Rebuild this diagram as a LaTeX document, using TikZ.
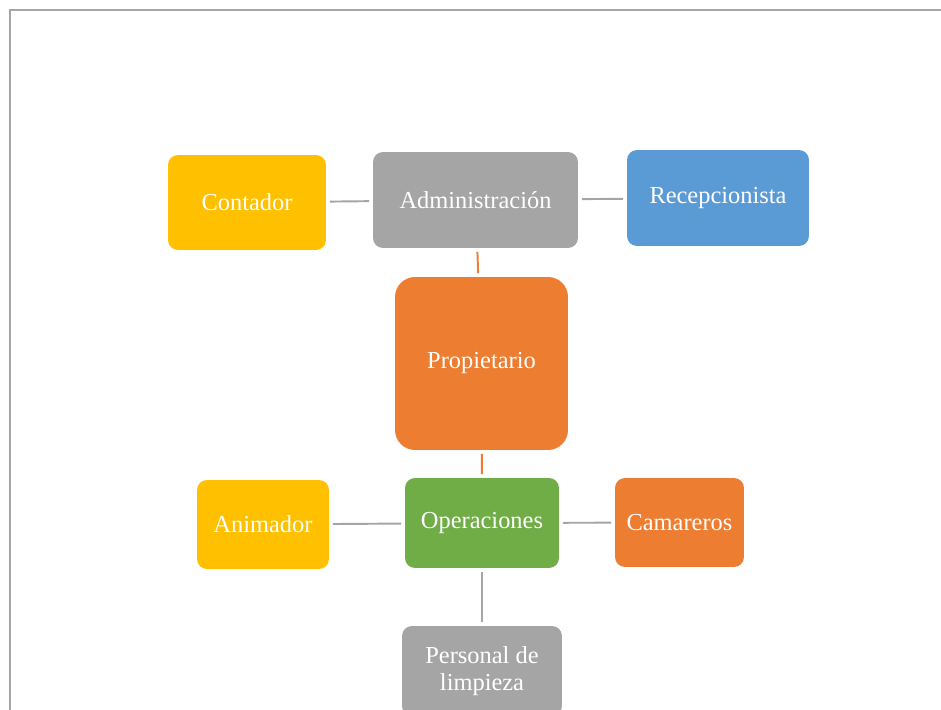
\documentclass[tikz,border=0pt]{standalone}
\usepackage{fontspec}
\setmainfont{Liberation Serif}
\usepackage{xcolor}
\usetikzlibrary{positioning}

\definecolor{boxgold}{HTML}{FFC000}
\definecolor{boxgray}{HTML}{A5A5A5}
\definecolor{boxblue}{HTML}{5B9BD5}
\definecolor{boxorange}{HTML}{ED7D31}
\definecolor{boxgreen}{HTML}{70AD47}
\definecolor{framegray}{HTML}{A6A6A6}

\begin{document}
\begin{tikzpicture}[
    x=0.02cm, y=-0.02cm,
    mybox/.style={rounded corners=0.2cm, inner sep=0pt, text=white, align=center, font=\fontsize{13.9}{15.4}\selectfont},
    myline/.style={line width=1.1pt, shorten <=2pt, shorten >=2pt}
]

  \useasboundingbox (0,0) rectangle (941,710);
  \clip (0,0) rectangle (941,710);

  % Frame
  \draw[framegray, line width=1.1pt] (10,712) -- (10,10) -- (943,10);

  % Nodes
  \node[mybox, fill=boxgold, minimum width=3.16cm, minimum height=1.9cm] (contador) at (247,202.5) {Contador};
  \node[mybox, fill=boxgray, minimum width=4.1cm, minimum height=1.92cm] (admin) at (475.5,200) {Administración};
  \node[mybox, fill=boxblue, minimum width=3.64cm, minimum height=1.92cm] (recep) at (718,198) {Recepcionista};
  \node[mybox, fill=boxorange, rounded corners=0.4cm, minimum width=3.46cm, minimum height=3.46cm] (prop) at (481.5,363.5) {Propietario};
  \node[mybox, fill=boxgold, minimum width=2.64cm, minimum height=1.78cm] (animador) at (263,524.5) {Animador};
  \node[mybox, fill=boxgreen, minimum width=3.08cm, minimum height=1.8cm] (oper) at (482,523) {Operaciones};
  \node[mybox, fill=boxorange, minimum width=2.58cm, minimum height=1.78cm] (camareros) at (679.5,522.5) {Camareros};
  \node[mybox, fill=boxgray, minimum width=3.2cm, minimum height=1.8cm] (limpieza) at (482,671) {Personal de\\limpieza};

  % Lines
  \draw[myline, boxgray] (contador) -- (admin);
  \draw[myline, boxgray] (admin) -- (recep);
  \draw[myline, boxorange] (admin) -- (prop);
  \draw[myline, boxorange] (prop) -- (oper);
  \draw[myline, boxgray] (animador) -- (oper);
  \draw[myline, boxgray] (oper) -- (camareros);
  \draw[myline, boxgray] (oper) -- (limpieza);

\end{tikzpicture}
\end{document}
